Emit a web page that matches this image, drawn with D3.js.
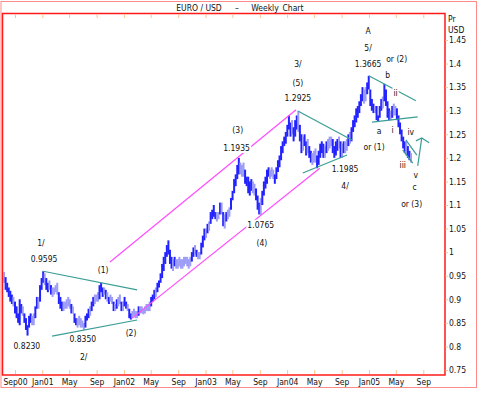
<!DOCTYPE html>
<html>
<head>
<meta charset="utf-8">
<script src="https://cdn.jsdelivr.net/npm/d3@7"></script>
<style>
  body { margin: 0; background: #fff; }
  text { font-family: "Liberation Sans Narrow", "Arial Narrow", "DejaVu Sans Condensed", Arial, sans-serif; font-size: 8.5px; fill: #111; }
</style>
</head>
<body>
<div id="chart"></div>
<script>
// weekly bars, one per Friday starting here
const firstWeek = "2000-07-14";

const high2000 = [.958,.947,.935,.925,.918,.910,.905,.895,.885,.870,.900,.890,.885,.870,.860,.845,.865,.870,.865,.870,.885,.905,.905,.930,.945];
const low2000  = [.935,.920,.915,.905,.895,.890,.885,.870,.860,.850,.845,.870,.865,.850,.835,.823,.840,.850,.845,.845,.860,.880,.880,.895,.920];

const high2001 = [.9595,.955,.945,.935, .94,.93,.925,.925, .93,.935,.915,.905,.895, .895,.895,.90,.905, .90,.89,.885,.87,
  .86,.86,.865,.86,.855, .85,.865,.87,.88, .885,.895,.905,.91,.91, .915,.93,.935,.925, .925,.92,.915,.905,
  .91,.905,.895,.89,.90, .905,.91,.895,.895];
const low2001  = [.935,.93,.92,.915, .92,.91,.905,.91, .915,.91,.89,.88,.875, .875,.88,.88,.885, .88,.87,.87,.85,
  .845,.84,.845,.84,.84, .835,.84,.855,.86, .865,.875,.885,.89,.895, .895,.90,.915,.905, .91,.90,.895,.89,
  .895,.89,.875,.875,.88, .885,.89,.875,.875];

const high2002 = [.905,.895,.89,.88, .87,.875,.88,.875, .875,.885,.885,.885,.88, .885,.89,.89,.895, .905,.91,.92,.925,.935,
  .94,.955,.975,.99, 1.0,1.015,1.025,1.005, .99,.985,.99,.985,.985, .99,.985,.985,.99, .99,.99,.985,.99,
  1.0,1.01,1.015,1.005,1.0, 1.0,1.02,1.035,1.05];
const low2002  = [.885,.88,.875,.86, .857,.86,.865,.86, .86,.865,.87,.87,.868, .87,.875,.875,.875, .885,.895,.90,.905,.915,
  .925,.935,.945,.96, .975,.99,.995,.975, .965,.96,.97,.965,.965, .97,.965,.965,.97, .975,.97,.965,.97,
  .98,.99,.995,.99,.985, .985,.995,1.01,1.025];

const high2003 = [1.05,1.06,1.065,1.085,1.09, 1.10,1.085,1.085,1.085, 1.105,1.105,1.085,1.08, 1.085,1.09,1.095,1.115,
  1.13,1.155,1.165,1.185,1.20, 1.19,1.185,1.19,1.175, 1.16,1.16,1.15,1.155, 1.15,1.145,1.135,1.12,1.105,
  1.115,1.13,1.15,1.16, 1.175,1.18,1.175,1.18,1.175, 1.165,1.18,1.195,1.205, 1.225,1.235,1.245,1.255];
const low2003  = [1.03,1.04,1.045,1.06,1.07, 1.075,1.07,1.065,1.07, 1.08,1.08,1.055,1.05, 1.065,1.07,1.075,1.09,
  1.11,1.125,1.14,1.155,1.165, 1.165,1.16,1.16,1.145, 1.14,1.125,1.12,1.13, 1.125,1.12,1.11,1.09,1.08,
  1.079,1.10,1.12,1.135, 1.145,1.16,1.155,1.16,1.155, 1.145,1.155,1.17,1.18, 1.195,1.21,1.225,1.23];

const high2004 = [1.27,1.29,1.275,1.28,1.265, 1.28,1.29,1.30,1.27, 1.25,1.245,1.25,1.235, 1.24,1.225,1.215,1.21,1.215,
  1.22,1.205,1.215,1.23, 1.235,1.23,1.225,1.235, 1.24,1.245,1.245,1.24,1.225, 1.235,1.24,1.245,1.235,
  1.23,1.235,1.235,1.24, 1.25,1.255,1.265,1.28,1.29, 1.305,1.31,1.32,1.335, 1.35,1.345,1.35,1.36,1.374];
const low2004  = [1.245,1.26,1.245,1.25,1.235, 1.245,1.26,1.255,1.235, 1.21,1.215,1.225,1.205, 1.21,1.20,1.19,1.185,1.19,
  1.19,1.178,1.185,1.20, 1.21,1.20,1.20,1.21, 1.215,1.22,1.225,1.21,1.20, 1.205,1.215,1.22,1.20,
  1.20,1.21,1.21,1.215, 1.225,1.23,1.235,1.255,1.265, 1.275,1.285,1.295,1.31, 1.32,1.315,1.32,1.335,1.345];

const high2005 = [1.345,1.325,1.315,1.31, 1.31,1.29,1.31,1.325, 1.33,1.357,1.345,1.32, 1.305,1.30,1.31,1.315,1.31,
  1.305,1.29,1.275,1.26, 1.245,1.235,1.235,1.225, 1.215,1.21];
const low2005  = [1.31,1.30,1.295,1.295, 1.28,1.276,1.285,1.30, 1.305,1.32,1.31,1.285, 1.28,1.28,1.285,1.29,1.29,
  1.28,1.265,1.25,1.235, 1.22,1.21,1.205,1.20, 1.195,1.19];

const yTicks = [0.75,0.8,0.85,0.9,0.95,1,1.05,1.1,1.15,1.2,1.25,1.3,1.35,1.4,1.45];
const yTickLabels = ["0.75","0.8","0.85","0.9","0.95","1","1.05","1.1","1.15","1.2","1.25","1.3","1.35","1.4","1.45"];
const xTickDates = ["2000-09-01","2001-01-01","2001-05-01","2001-09-01","2002-01-01","2002-05-01","2002-09-01","2003-01-01",
  "2003-05-01","2003-09-01","2004-01-01","2004-05-01","2004-09-01","2005-01-01","2005-05-01","2005-09-01"];
const xTickLabels = ["Sep00","Jan01","May","Sep","Jan02","May","Sep","Jan03","May","Sep","Jan04","May","Sep","Jan05","May","Sep"];

// wave labels
const noteText  = ["1/","0.9595","0.8230","0.8350","2/","(1)","(2)","(3)","1.1935","1.0765","(4)","3/","(5)","1.2925",
  "1.1985","4/","A","5/","1.3665","or (2)","b","ii","a","i","or (1)","iv","iii","v","c","or (3)"];
const noteDate  = ["2000-12-26","2001-01-09","2000-10-24","2001-07-01","2001-07-05","2001-09-30","2002-02-02","2003-05-25",
  "2003-05-20","2003-09-05","2003-09-10","2004-02-18","2004-02-18","2004-02-18","2004-09-16","2004-09-16",
  "2004-12-28","2004-12-28","2004-12-28","2005-05-05","2005-03-26","2005-04-30","2005-02-15","2005-04-17",
  "2005-01-24","2005-07-07","2005-06-01","2005-07-29","2005-07-24","2005-07-11"];
const notePrice = [1.019,0.985,0.801,0.816,0.778,0.962,0.828,1.259,1.221,1.058,1.019,1.399,1.359,1.327,
  1.176,1.140,1.469,1.433,1.399,1.410,1.376,1.338,1.257,1.259,1.223,1.255,1.185,1.164,1.138,1.102];

// trend lines [date, price] pairs
const greenLines = [
  [["2001-01-05",0.9595],["2002-03-01",0.920]],
  [["2001-02-14",0.822],["2002-03-01",0.856]],
  [["2004-02-20",1.299],["2004-10-17",1.238]],
  [["2004-03-11",1.168],["2004-09-25",1.206]],
  [["2004-12-31",1.374],["2005-07-30",1.321]],
  [["2005-01-15",1.276],["2005-08-07",1.287]],
  [["2005-06-15",1.238],["2005-08-03",1.206]],
  [["2005-06-01",1.217],["2005-07-16",1.189]],
  [["2005-08-07",1.183],["2005-08-25",1.242]],
  [["2005-07-30",1.236],["2005-08-25",1.242],["2005-09-27",1.232]]
];
const pinkLines = [
  [["2001-10-31",0.979],["2004-02-10",1.302]],
  [["2002-02-07",0.860],["2004-05-26",1.178]]
];

const W = 480, H = 393;
const parse = d3.timeParse("%Y-%m-%d");

const svg = d3.select("#chart").append("svg")
    .attr("width", W)
    .attr("height", H);

const x = d3.scaleTime()
    .domain([parse("2000-09-01"), parse("2005-09-01")])
    .range([15, 423.3]);
const y = d3.scaleLinear()
    .domain([0.75, 1.45])
    .range([370, 40]);

const highs = [].concat(high2000, high2001, high2002, high2003, high2004, high2005);
const lows = [].concat(low2000, low2001, low2002, low2003, low2004, low2005);
const start = parse(firstWeek);
const weeks = highs.map((h, i) => ({
    date: d3.timeDay.offset(start, 7 * i),
    high: h,
    low: lows[i]
}));
// quiet weeks (little change in the middle of the range) get the pale colour
weeks.forEach((d, i) => {
    const prev = i > 0 ? weeks[i - 1] : d;
    d.quiet = Math.abs((d.high + d.low) - (prev.high + prev.low)) / 2 < 0.006;
});

// frames
svg.append("rect")
    .attr("x", 1).attr("y", 1.5).attr("width", 475.5).attr("height", 386)
    .attr("fill", "none").attr("stroke", "#ff8c8c").attr("stroke-width", 1);
svg.append("rect")
    .attr("x", 2.5).attr("y", 13.5).attr("width", 442.5).attr("height", 361.5)
    .attr("fill", "none").attr("stroke", "#ff1a1a").attr("stroke-width", 1.5);

// title
const titleParts = [["EURO / USD", 199], ["\u2013", 237], ["Weekly", 265], ["Chart", 293]];
svg.selectAll(".title").data(titleParts).enter().append("text")
    .attr("x", d => d[1]).attr("y", 11)
    .attr("text-anchor", "middle")
    .text(d => d[0]);

// time ticks inside top and bottom of the plot
const tickColor = "#fbc58f";
const xDates = xTickDates.map(parse);
svg.append("g")
    .attr("transform", "translate(0,14)")
    .call(d3.axisBottom(x).tickValues(xDates).tickSize(4).tickFormat(""))
    .call(g => g.select(".domain").remove())
    .call(g => g.selectAll("line").attr("stroke", tickColor));
svg.append("g")
    .attr("transform", "translate(0,374)")
    .call(d3.axisTop(x).tickValues(xDates).tickSize(4).tickFormat(""))
    .call(g => g.select(".domain").remove())
    .call(g => g.selectAll("line").attr("stroke", tickColor));
svg.append("g")
    .attr("transform", "translate(0,376)")
    .call(d3.axisBottom(x).tickValues(xDates).tickSize(0).tickPadding(3)
        .tickFormat((d, i) => xTickLabels[i]))
    .call(g => g.select(".domain").remove())
    .attr("font-size", null).attr("font-family", null);

// price axis on the right
svg.append("g")
    .attr("transform", "translate(445.5,0)")
    .call(d3.axisRight(y).tickValues(yTicks).tickSize(2.5).tickPadding(1)
        .tickFormat((d, i) => yTickLabels[i]))
    .call(g => g.select(".domain").remove())
    .call(g => g.selectAll("line").attr("stroke", tickColor))
    .attr("font-size", null).attr("font-family", null);
svg.append("text").attr("x", 448).attr("y", 22).text("Pr");
svg.append("text").attr("x", 448).attr("y", 33).text("USD");

// weekly bars
svg.append("g").selectAll("rect")
    .data(weeks)
    .enter()
    .append("rect")
    .attr("x", d => x(d.date) - 1)
    .attr("width", 2)
    .attr("y", d => y(d.high))
    .attr("height", d => Math.max(1, y(d.low) - y(d.high)))
    .attr("fill", d => d.quiet ? "#9d9df7" : "#2323ff");

// channel and trend lines
const line = d3.line()
    .x(d => x(parse(d[0])))
    .y(d => y(d[1]));
svg.append("g").selectAll("path")
    .data(pinkLines)
    .enter()
    .append("path")
    .attr("d", line)
    .attr("fill", "none")
    .attr("stroke", "#ff4dff")
    .attr("stroke-width", 1.2);
svg.append("g").selectAll("path")
    .data(greenLines)
    .enter()
    .append("path")
    .attr("d", line)
    .attr("fill", "none")
    .attr("stroke", "#3a9d95")
    .attr("stroke-width", 1.2);

// wave labels with white backing
const notes = svg.append("g");
noteText.forEach((t, i) => {
    const g = notes.append("g");
    const txt = g.append("text")
        .attr("x", x(parse(noteDate[i])))
        .attr("y", y(notePrice[i]) + 3)
        .attr("text-anchor", "middle")
        .text(t);
    const b = txt.node().getBBox();
    g.insert("rect", "text")
        .attr("x", b.x - 1).attr("y", b.y)
        .attr("width", b.width + 2).attr("height", b.height)
        .attr("fill", "#fff");
});
</script>
</body>
</html>
